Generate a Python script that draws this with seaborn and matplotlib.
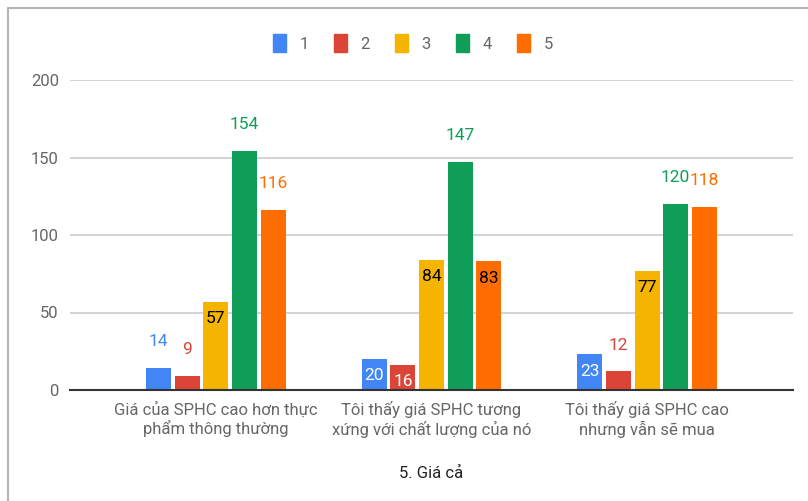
import numpy as np
import pandas as pd
import matplotlib.pyplot as plt
import seaborn as sns
from matplotlib.lines import Line2D

categories = ['Giá của SPHC cao hơn thực\nphẩm thông thường',
              'Tôi thấy giá SPHC tương\nxứng với chất lượng của nó',
              'Tôi thấy giá SPHC cao\nnhưng vẫn sẽ mua']
levels = ['1', '2', '3', '4', '5']
counts_1 = [14, 20, 23]
counts_2 = [9, 16, 12]
counts_3 = [57, 84, 77]
counts_4 = [154, 147, 120]
counts_5 = [116, 83, 118]
x_title = '5. Giá cả'

colors = ['#4285F4', '#DB4437', '#F4B400', '#0F9D58', '#FF6D00']
inside_text = ['white', 'white', 'black', 'black', 'black']

rows = []
for lev, vals in zip(levels, [counts_1, counts_2, counts_3, counts_4, counts_5]):
    for cat, v in zip(categories, vals):
        rows.append({'cat': cat, 'level': lev, 'count': v})
df = pd.DataFrame(rows)

sns.set_theme(style='white')
plt.rcParams['font.family'] = ['Roboto', 'DejaVu Sans']

fig = plt.figure(figsize=(8.08, 5.01), dpi=100)
ax = fig.add_axes([70 / 808, 1 - 390 / 501, (793 - 70) / 808, 310 / 501])

sns.barplot(data=df, x='cat', y='count', hue='level', order=categories,
            hue_order=levels, palette=colors, width=0.663, gap=0.125,
            linewidth=0, saturation=1, ax=ax)

ax.set_xlim(-0.677, 2.677)
ax.set_ylim(0, 200)
ax.set_yticks([0, 50, 100, 150, 200])
ax.yaxis.grid(True, color='#cccccc', linewidth=1.2)
ax.set_axisbelow(True)
for s in ['top', 'right', 'left']:
    ax.spines[s].set_visible(False)
ax.spines['bottom'].set_color('#333333')
ax.spines['bottom'].set_linewidth(1.5)
ax.tick_params(axis='y', length=0, pad=8, labelsize=12, labelcolor='#666666')
ax.tick_params(axis='x', length=0, pad=8, labelsize=12, labelcolor='#666666')
ax.set_ylabel('')
ax.set_xlabel(x_title, fontsize=12, color='#222222', labelpad=20)

# nhãn giá trị
for i, cont in enumerate(ax.containers):
    for bar in cont:
        h = bar.get_height()
        xc = bar.get_x() + bar.get_width() / 2
        if h < 15 or h > 100:
            ax.annotate(f'{int(h)}', (xc, h), xytext=(0, 19), textcoords='offset points',
                        ha='center', va='center', fontsize=12.5, color=colors[i])
        else:
            ax.annotate(f'{int(h)}', (xc, h), xytext=(0, -12), textcoords='offset points',
                        ha='center', va='center', fontsize=12.5, color=inside_text[i])

ax.legend_.remove()
handles = [plt.Rectangle((0, 0), 1, 1, color=c) for c in colors]
fig.legend(handles, levels, loc='center', bbox_to_anchor=(413 / 808, 1 - 43 / 501),
           ncol=5, frameon=False, fontsize=12, labelcolor='#666666',
           handlelength=0.8, handleheight=1.2, handletextpad=0.8, columnspacing=1.5)

# khung
fig.add_artist(Line2D([8 / 808, 1], [1 - 8 / 501, 1 - 8 / 501], color='#b5b5b5', lw=1.5))
fig.add_artist(Line2D([8 / 808, 8 / 808], [0, 1 - 8 / 501], color='#b5b5b5', lw=1.5))

fig.savefig('out.png', dpi=100)
